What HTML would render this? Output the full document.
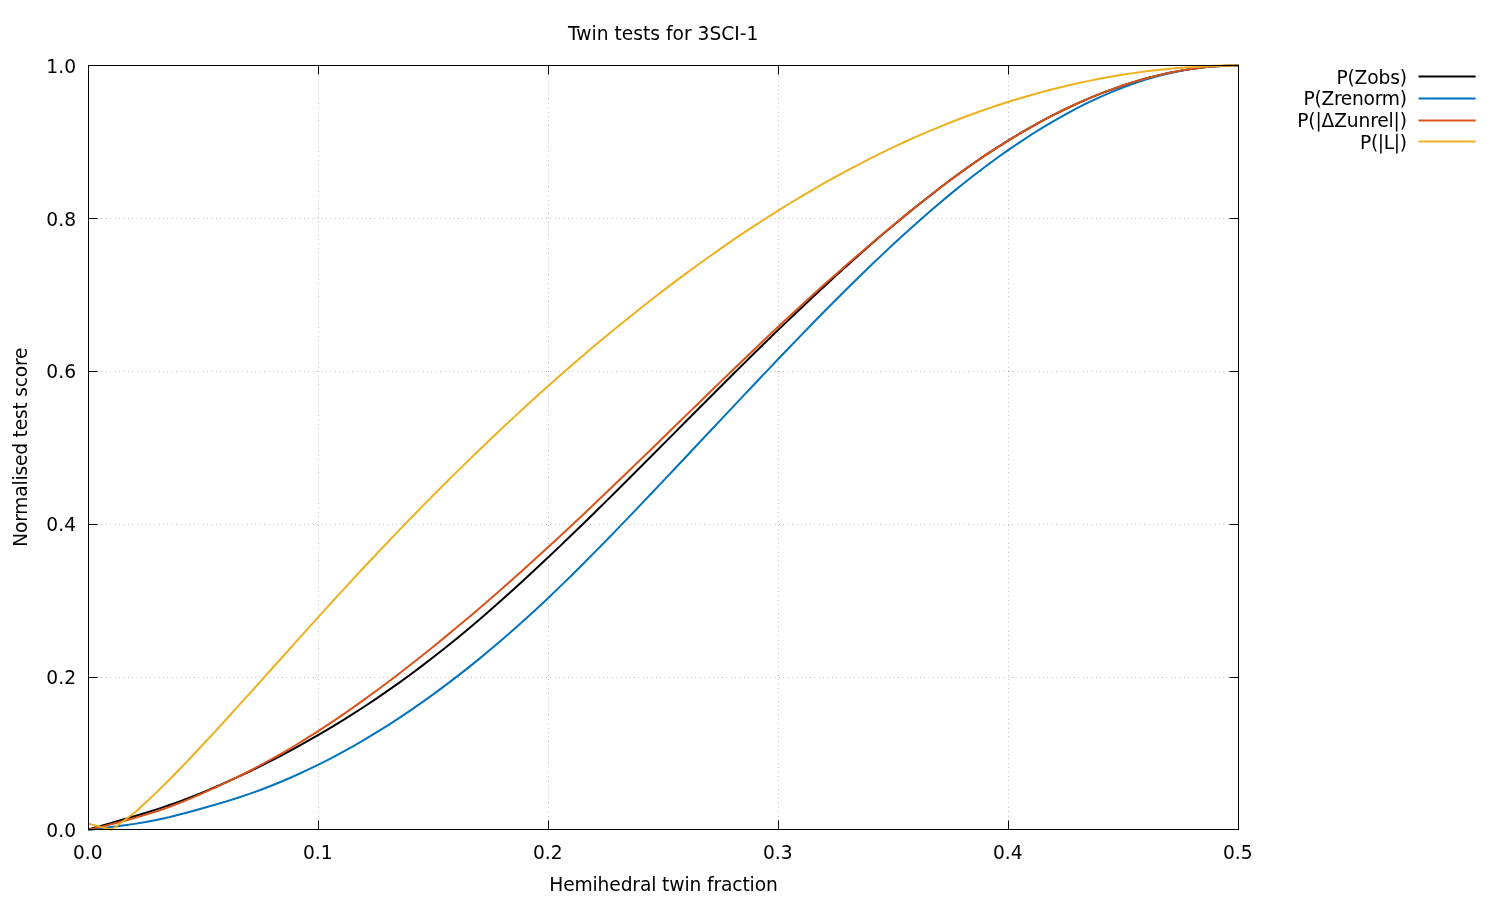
<!DOCTYPE html>
<html><head><meta charset="utf-8"><title>Twin tests for 3SCI-1</title>
<style>
html,body{margin:0;padding:0;background:#fff;}
body{width:1500px;height:900px;overflow:hidden;}
svg{display:block;will-change:transform;}
text{font-family:"DejaVu Sans","Liberation Sans",sans-serif;font-size:18.67px;fill:#000;}
.grid{stroke:#000;stroke-width:0.62;stroke-dasharray:0.4 4;fill:none;}
.ax{stroke:#000;stroke-width:1;fill:none;}
.cv{fill:none;stroke-width:2;stroke-linejoin:round;stroke-linecap:butt;}
</style></head><body>
<svg width="1500" height="900" viewBox="0 0 1500 900">
<rect x="0" y="0" width="1500" height="900" fill="#ffffff"/>

<g><line class="grid" x1="318.5" y1="829.5" x2="318.5" y2="65.5"/>
<line class="grid" x1="548.5" y1="829.5" x2="548.5" y2="65.5"/>
<line class="grid" x1="778.5" y1="829.5" x2="778.5" y2="65.5"/>
<line class="grid" x1="1008.5" y1="829.5" x2="1008.5" y2="65.5"/>
<line class="grid" x1="88.5" y1="677.5" x2="1238.5" y2="677.5"/>
<line class="grid" x1="88.5" y1="524.5" x2="1238.5" y2="524.5"/>
<line class="grid" x1="88.5" y1="371.5" x2="1238.5" y2="371.5"/>
<line class="grid" x1="88.5" y1="218.5" x2="1238.5" y2="218.5"/></g>
<g><line class="ax" x1="88.5" y1="829.5" x2="88.5" y2="820.5"/>
<line class="ax" x1="88.5" y1="65.5" x2="88.5" y2="74.5"/>
<text x="87.8" y="858.6" text-anchor="middle">0.0</text>
<line class="ax" x1="318.5" y1="829.5" x2="318.5" y2="820.5"/>
<line class="ax" x1="318.5" y1="65.5" x2="318.5" y2="74.5"/>
<text x="317.8" y="858.6" text-anchor="middle">0.1</text>
<line class="ax" x1="548.5" y1="829.5" x2="548.5" y2="820.5"/>
<line class="ax" x1="548.5" y1="65.5" x2="548.5" y2="74.5"/>
<text x="547.8" y="858.6" text-anchor="middle">0.2</text>
<line class="ax" x1="778.5" y1="829.5" x2="778.5" y2="820.5"/>
<line class="ax" x1="778.5" y1="65.5" x2="778.5" y2="74.5"/>
<text x="777.8" y="858.6" text-anchor="middle">0.3</text>
<line class="ax" x1="1008.5" y1="829.5" x2="1008.5" y2="820.5"/>
<line class="ax" x1="1008.5" y1="65.5" x2="1008.5" y2="74.5"/>
<text x="1007.8" y="858.6" text-anchor="middle">0.4</text>
<line class="ax" x1="1238.5" y1="829.5" x2="1238.5" y2="820.5"/>
<line class="ax" x1="1238.5" y1="65.5" x2="1238.5" y2="74.5"/>
<text x="1237.8" y="858.6" text-anchor="middle">0.5</text>
<line class="ax" x1="88.5" y1="829.5" x2="97.5" y2="829.5"/>
<line class="ax" x1="1238.5" y1="829.5" x2="1229.5" y2="829.5"/>
<text x="76" y="836.5" text-anchor="end">0.0</text>
<line class="ax" x1="88.5" y1="677.5" x2="97.5" y2="677.5"/>
<line class="ax" x1="1238.5" y1="677.5" x2="1229.5" y2="677.5"/>
<text x="76" y="683.5" text-anchor="end">0.2</text>
<line class="ax" x1="88.5" y1="524.5" x2="97.5" y2="524.5"/>
<line class="ax" x1="1238.5" y1="524.5" x2="1229.5" y2="524.5"/>
<text x="76" y="530.5" text-anchor="end">0.4</text>
<line class="ax" x1="88.5" y1="371.5" x2="97.5" y2="371.5"/>
<line class="ax" x1="1238.5" y1="371.5" x2="1229.5" y2="371.5"/>
<text x="76" y="377.5" text-anchor="end">0.6</text>
<line class="ax" x1="88.5" y1="218.5" x2="97.5" y2="218.5"/>
<line class="ax" x1="1238.5" y1="218.5" x2="1229.5" y2="218.5"/>
<text x="76" y="225.5" text-anchor="end">0.8</text>
<line class="ax" x1="88.5" y1="65.5" x2="97.5" y2="65.5"/>
<line class="ax" x1="1238.5" y1="65.5" x2="1229.5" y2="65.5"/>
<text x="76" y="72.5" text-anchor="end">1.0</text></g>
<path class="cv" stroke="#000000" d="M88.50,829.45 L100.00,826.17 L111.50,822.88 L123.00,819.58 L134.50,816.22 L146.00,812.74 L157.50,809.10 L169.00,805.23 L180.50,801.11 L192.00,796.73 L203.50,792.11 L215.00,787.26 L226.50,782.19 L238.00,776.94 L249.50,771.49 L261.00,765.87 L272.50,760.06 L284.00,754.06 L295.50,747.87 L307.00,741.49 L318.50,734.90 L330.00,728.11 L341.50,721.11 L353.00,713.90 L364.50,706.47 L376.00,698.82 L387.50,690.94 L399.00,682.83 L410.50,674.48 L422.00,665.89 L433.50,657.07 L445.00,648.00 L456.50,638.69 L468.00,629.16 L479.50,619.41 L491.00,609.45 L502.50,599.31 L514.00,588.98 L525.50,578.49 L537.00,567.84 L548.50,557.05 L560.00,546.13 L571.50,535.09 L583.00,523.94 L594.50,512.69 L606.00,501.36 L617.50,489.96 L629.00,478.51 L640.50,467.00 L652.00,455.46 L663.50,443.90 L675.00,432.33 L686.50,420.76 L698.00,409.20 L709.50,397.67 L721.00,386.17 L732.50,374.73 L744.00,363.34 L755.50,352.03 L767.00,340.80 L778.50,329.65 L790.00,318.61 L801.50,307.67 L813.00,296.85 L824.50,286.16 L836.00,275.60 L847.50,265.18 L859.00,254.90 L870.50,244.77 L882.00,234.85 L893.50,225.14 L905.00,215.63 L916.50,206.30 L928.00,197.17 L939.50,188.24 L951.00,179.55 L962.50,171.13 L974.00,162.99 L985.50,155.14 L997.00,147.59 L1008.50,140.34 L1020.00,133.40 L1031.50,126.77 L1043.00,120.45 L1054.50,114.44 L1066.00,108.76 L1077.50,103.40 L1089.00,98.37 L1100.50,93.68 L1112.00,89.32 L1123.50,85.30 L1135.00,81.64 L1146.50,78.33 L1158.00,75.38 L1169.50,72.81 L1181.00,70.61 L1192.50,68.79 L1204.00,67.37 L1215.50,66.34 L1227.00,65.72 L1238.50,65.50"/>
<path class="cv" stroke="#0072bd" d="M88.50,830.00 L100.00,828.53 L111.50,827.04 L123.00,825.52 L134.50,823.87 L146.00,822.00 L157.50,819.79 L169.00,817.23 L180.50,814.34 L192.00,811.23 L203.50,808.02 L215.00,804.74 L226.50,801.34 L238.00,797.74 L249.50,793.87 L261.00,789.70 L272.50,785.25 L284.00,780.51 L295.50,775.49 L307.00,770.20 L318.50,764.63 L330.00,758.79 L341.50,752.68 L353.00,746.29 L364.50,739.64 L376.00,732.72 L387.50,725.54 L399.00,718.09 L410.50,710.37 L422.00,702.39 L433.50,694.15 L445.00,685.65 L456.50,676.90 L468.00,667.88 L479.50,658.61 L491.00,649.08 L502.50,639.30 L514.00,629.26 L525.50,618.98 L537.00,608.45 L548.50,597.67 L560.00,586.65 L571.50,575.43 L583.00,564.00 L594.50,552.41 L606.00,540.68 L617.50,528.83 L629.00,516.89 L640.50,504.87 L652.00,492.79 L663.50,480.65 L675.00,468.48 L686.50,456.27 L698.00,444.04 L709.50,431.80 L721.00,419.57 L732.50,407.34 L744.00,395.13 L755.50,382.96 L767.00,370.83 L778.50,358.75 L790.00,346.75 L801.50,334.83 L813.00,323.00 L824.50,311.28 L836.00,299.69 L847.50,288.24 L859.00,276.94 L870.50,265.81 L882.00,254.85 L893.50,244.09 L905.00,233.53 L916.50,223.19 L928.00,213.09 L939.50,203.24 L951.00,193.64 L962.50,184.31 L974.00,175.26 L985.50,166.50 L997.00,158.04 L1008.50,149.89 L1020.00,142.05 L1031.50,134.53 L1043.00,127.35 L1054.50,120.52 L1066.00,114.03 L1077.50,107.91 L1089.00,102.17 L1100.50,96.80 L1112.00,91.83 L1123.50,87.26 L1135.00,83.10 L1146.50,79.36 L1158.00,76.05 L1169.50,73.19 L1181.00,70.78 L1192.50,68.82 L1204.00,67.31 L1215.50,66.26 L1227.00,65.66 L1238.50,65.50"/>
<path class="cv" stroke="#d95319" d="M88.50,829.99 L100.00,827.12 L111.50,824.19 L123.00,821.19 L134.50,818.03 L146.00,814.66 L157.50,811.01 L169.00,807.02 L180.50,802.66 L192.00,797.93 L203.50,792.91 L215.00,787.70 L226.50,782.32 L238.00,776.77 L249.50,770.99 L261.00,764.95 L272.50,758.65 L284.00,752.08 L295.50,745.25 L307.00,738.17 L318.50,730.86 L330.00,723.31 L341.50,715.55 L353.00,707.57 L364.50,699.39 L376.00,691.01 L387.50,682.45 L399.00,673.70 L410.50,664.79 L422.00,655.72 L433.50,646.49 L445.00,637.11 L456.50,627.59 L468.00,617.94 L479.50,608.15 L491.00,598.22 L502.50,588.18 L514.00,578.01 L525.50,567.72 L537.00,557.32 L548.50,546.82 L560.00,536.21 L571.50,525.50 L583.00,514.69 L594.50,503.80 L606.00,492.84 L617.50,481.81 L629.00,470.73 L640.50,459.60 L652.00,448.44 L663.50,437.26 L675.00,426.06 L686.50,414.86 L698.00,403.67 L709.50,392.49 L721.00,381.35 L732.50,370.24 L744.00,359.18 L755.50,348.19 L767.00,337.28 L778.50,326.46 L790.00,315.74 L801.50,305.14 L813.00,294.67 L824.50,284.34 L836.00,274.15 L847.50,264.09 L859.00,254.16 L870.50,244.35 L882.00,234.65 L893.50,225.07 L905.00,215.62 L916.50,206.31 L928.00,197.17 L939.50,188.25 L951.00,179.56 L962.50,171.13 L974.00,162.99 L985.50,155.14 L997.00,147.59 L1008.50,140.35 L1020.00,133.40 L1031.50,126.77 L1043.00,120.45 L1054.50,114.45 L1066.00,108.77 L1077.50,103.41 L1089.00,98.38 L1100.50,93.68 L1112.00,89.32 L1123.50,85.30 L1135.00,81.64 L1146.50,78.33 L1158.00,75.38 L1169.50,72.81 L1181.00,70.61 L1192.50,68.80 L1204.00,67.37 L1215.50,66.34 L1227.00,65.72 L1238.50,65.50"/>
<path class="cv" stroke="#edb120" d="M88.50,823.60 L111.50,829.80 L134.50,812.76 L146.00,802.30 L157.50,791.37 L169.00,780.02 L180.50,768.29 L192.00,756.26 L203.50,744.01 L215.00,731.58 L226.50,719.03 L238.00,706.37 L249.50,693.64 L261.00,680.86 L272.50,668.04 L284.00,655.21 L295.50,642.39 L307.00,629.59 L318.50,616.85 L330.00,604.17 L341.50,591.59 L353.00,579.11 L364.50,566.74 L376.00,554.48 L387.50,542.35 L399.00,530.33 L410.50,518.44 L422.00,506.67 L433.50,495.03 L445.00,483.51 L456.50,472.12 L468.00,460.85 L479.50,449.72 L491.00,438.72 L502.50,427.85 L514.00,417.11 L525.50,406.51 L537.00,396.04 L548.50,385.72 L560.00,375.53 L571.50,365.49 L583.00,355.58 L594.50,345.82 L606.00,336.21 L617.50,326.74 L629.00,317.42 L640.50,308.25 L652.00,299.23 L663.50,290.36 L675.00,281.65 L686.50,273.09 L698.00,264.69 L709.50,256.44 L721.00,248.36 L732.50,240.43 L744.00,232.67 L755.50,225.07 L767.00,217.63 L778.50,210.36 L790.00,203.26 L801.50,196.33 L813.00,189.57 L824.50,182.98 L836.00,176.56 L847.50,170.32 L859.00,164.26 L870.50,158.37 L882.00,152.66 L893.50,147.13 L905.00,141.78 L916.50,136.62 L928.00,131.63 L939.50,126.83 L951.00,122.20 L962.50,117.76 L974.00,113.50 L985.50,109.42 L997.00,105.52 L1008.50,101.81 L1020.00,98.27 L1031.50,94.92 L1043.00,91.74 L1054.50,88.75 L1066.00,85.94 L1077.50,83.31 L1089.00,80.86 L1100.50,78.60 L1112.00,76.51 L1123.50,74.60 L1135.00,72.87 L1146.50,71.33 L1158.00,69.97 L1169.50,68.78 L1181.00,67.78 L1192.50,66.96 L1204.00,66.33 L1215.50,65.87 L1227.00,65.59 L1238.50,65.50"/>
<rect class="ax" x="88.5" y="65.5" width="1150.0" height="764.0"/>
<text x="663.2" y="40" text-anchor="middle">Twin tests for 3SCI-1</text>
<text x="663.5" y="890.5" text-anchor="middle" textLength="228.5" lengthAdjust="spacing">Hemihedral twin fraction</text>
<text transform="translate(27,447.1) rotate(-90)" text-anchor="middle" textLength="199.4" lengthAdjust="spacing">Normalised test score</text>
<text x="1407" y="83.5" text-anchor="end" textLength="70.6" lengthAdjust="spacing">P(Zobs)</text>
<line x1="1418.5" y1="76.4" x2="1475.6" y2="76.4" stroke="#000000" stroke-width="2"/>
<text x="1407" y="105.2" text-anchor="end" textLength="103.6" lengthAdjust="spacing">P(Zrenorm)</text>
<line x1="1418.5" y1="98.4" x2="1475.6" y2="98.4" stroke="#0072bd" stroke-width="2"/>
<text x="1407" y="127.1" text-anchor="end" textLength="109.8" lengthAdjust="spacing">P(|ΔZunrel|)</text>
<line x1="1418.5" y1="120.4" x2="1475.6" y2="120.4" stroke="#d95319" stroke-width="2"/>
<text x="1407" y="148.8" text-anchor="end" textLength="47.0" lengthAdjust="spacing">P(|L|)</text>
<line x1="1418.5" y1="141.5" x2="1475.6" y2="141.5" stroke="#edb120" stroke-width="2"/>
</svg></body></html>
